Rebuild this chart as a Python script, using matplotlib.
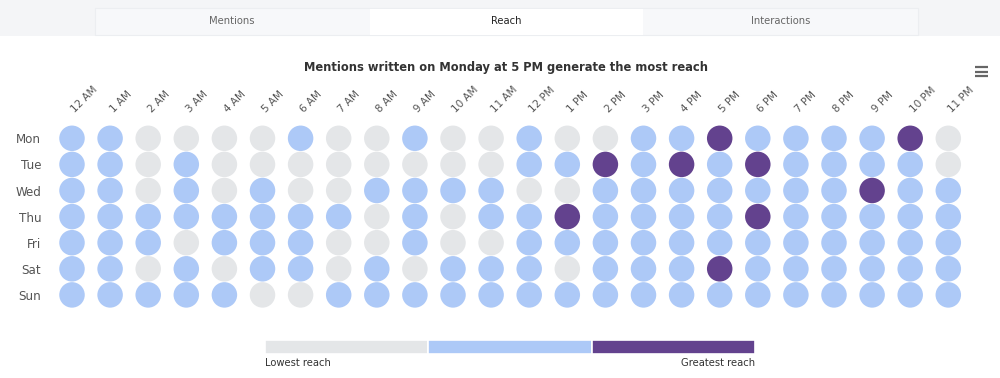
import matplotlib
matplotlib.use("Agg")
import matplotlib.pyplot as plt
from matplotlib.patches import Rectangle
import numpy as np

plt.rcParams['font.family'] = ['DejaVu Sans']

# ---- data ----
days = ["Mon", "Tue", "Wed", "Thu", "Fri", "Sat", "Sun"]
hours = ["12 AM", "1 AM", "2 AM", "3 AM", "4 AM", "5 AM", "6 AM", "7 AM", "8 AM",
         "9 AM", "10 AM", "11 AM", "12 PM", "1 PM", "2 PM", "3 PM", "4 PM", "5 PM",
         "6 PM", "7 PM", "8 PM", "9 PM", "10 PM", "11 PM"]
# reach level: 0 = lowest, 1 = medium, 2 = greatest
reach_mon = [1, 1, 0, 0, 0, 0, 1, 0, 0, 1, 0, 0, 1, 0, 0, 1, 1, 2, 1, 1, 1, 1, 2, 0]
reach_tue = [1, 1, 0, 1, 0, 0, 0, 0, 0, 0, 0, 0, 1, 1, 2, 1, 2, 1, 2, 1, 1, 1, 1, 0]
reach_wed = [1, 1, 0, 1, 0, 1, 0, 0, 1, 1, 1, 1, 0, 0, 1, 1, 1, 1, 1, 1, 1, 2, 1, 1]
reach_thu = [1, 1, 1, 1, 1, 1, 1, 1, 0, 1, 0, 1, 1, 2, 1, 1, 1, 1, 2, 1, 1, 1, 1, 1]
reach_fri = [1, 1, 1, 0, 1, 1, 1, 0, 0, 1, 0, 0, 1, 1, 1, 1, 1, 1, 1, 1, 1, 1, 1, 1]
reach_sat = [1, 1, 0, 1, 0, 1, 1, 0, 1, 0, 1, 1, 1, 0, 1, 1, 1, 2, 1, 1, 1, 1, 1, 1]
reach_sun = [1, 1, 1, 1, 1, 0, 0, 1, 1, 1, 1, 1, 1, 1, 1, 1, 1, 1, 1, 1, 1, 1, 1, 1]
reach_rows = [reach_mon, reach_tue, reach_wed, reach_thu, reach_fri, reach_sat, reach_sun]

level_colors = ["#e4e6e8", "#adc9f7", "#63428e"]
legend_labels = ["Lowest reach", "Greatest reach"]
tabs = ["Mentions", "Reach", "Interactions"]
active_tab = "Reach"
title = "Mentions written on Monday at 5 PM generate the most reach"

W, H = 1000, 378
fig = plt.figure(figsize=(W / 100, H / 100), dpi=100)
fig.patch.set_facecolor("white")

def fx(px):
    return px / W

def fy(py):
    return 1 - py / H

# ---- chrome overlay (pixel coordinates) ----
over = fig.add_axes([0, 0, 1, 1])
over.set_xlim(0, W)
over.set_ylim(H, 0)
over.axis("off")
over.add_patch(Rectangle((0, 0), W, 36, facecolor="#f4f5f7", edgecolor="none"))
over.add_patch(Rectangle((95, 8), 823, 27, facecolor="#f7f8fa", edgecolor="#eceef1", lw=0.8))
tab_w = 823 / 3
for i, t in enumerate(tabs):
    x0 = 95 + i * tab_w
    if t == active_tab:
        over.add_patch(Rectangle((x0 + 1, 9), tab_w - 2, 26, facecolor="white", edgecolor="none"))
    over.text(x0 + tab_w / 2, 21.5, t, ha="center", va="center", fontsize=7.2,
              color="#222222" if t == active_tab else "#666666")

over.text(506, 67.8, title, ha="center", va="center", fontsize=8.3,
          fontweight="bold", color="#333333")
for yy in (67, 71.5, 76):
    over.plot([974.5, 987.5], [yy, yy], color="#666666", lw=1.6, solid_capstyle="butt")

# ---- main heat-dot grid ----
x0px, dx = 72.0, 38.1
y0px, dy = 138.3, 26.1
left = x0px - 0.5 * dx
right = x0px + 23.5 * dx
top = y0px - 0.5 * dy
bottom = y0px + 6.5 * dy
ax = fig.add_axes([fx(left), fy(bottom), fx(right - left), (bottom - top) / H])
ax.set_xlim(-0.5, len(hours) - 0.5)
ax.set_ylim(len(days) - 0.5, -0.5)
ax.patch.set_alpha(0)
for s in ax.spines.values():
    s.set_visible(False)

xs, ys, cs = [], [], []
for r, row in enumerate(reach_rows):
    for c, v in enumerate(row):
        xs.append(c)
        ys.append(r)
        cs.append(level_colors[v])
d_pt = 25.5 * 72 / 100
ax.scatter(xs, ys, s=d_pt ** 2, c=cs, linewidths=0, zorder=3)

ax.set_yticks(range(len(days)))
ax.set_yticklabels(days, fontsize=8.6, color="#555555")
ax.tick_params(axis="y", length=0, pad=8.5)
ax.set_xticks(range(len(hours)))
ax.set_xticklabels([])
ax.tick_params(axis="x", length=0, bottom=False, top=False)
for c, h in enumerate(hours):
    ax.annotate(h, xy=(c, -0.5), xycoords="data", xytext=(2.5, 8.5),
                textcoords="offset points", rotation=45, rotation_mode="anchor",
                ha="left", va="baseline", fontsize=7.5, color="#555555",
                annotation_clip=False)

# ---- legend bar ----
lax = fig.add_axes([fx(265), fy(354), fx(755 - 265), 14 / H])
lax.set_xlim(0, len(level_colors))
lax.set_ylim(0, 1)
lax.axis("off")
lax.bar(np.arange(len(level_colors)), [1] * len(level_colors), width=1.0, align="edge",
        color=level_colors, edgecolor="white", linewidth=1.2)
over.text(265, 363.5, legend_labels[0], ha="left", va="center", fontsize=7.2, color="#333333")
over.text(755, 363.5, legend_labels[1], ha="right", va="center", fontsize=7.2, color="#333333")

fig.savefig("out.png", dpi=100, facecolor="white")
